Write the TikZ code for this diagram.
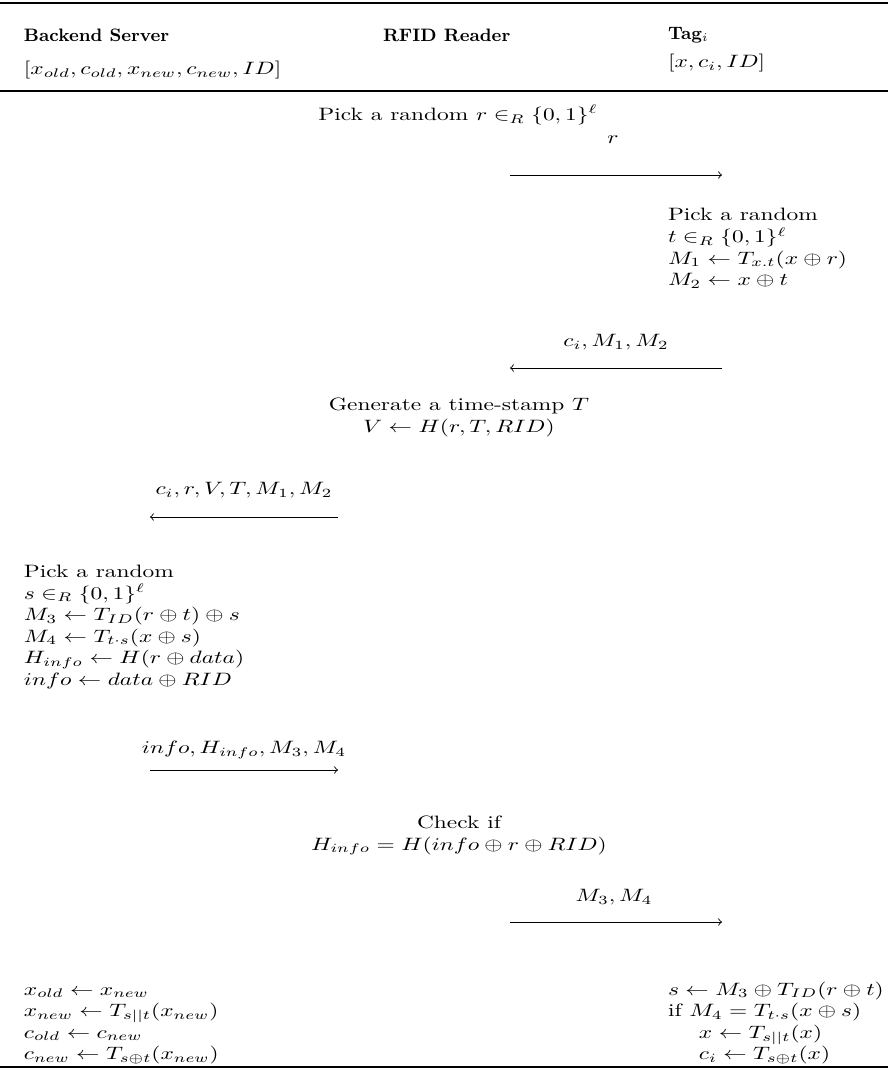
\documentclass[tikz,border=0pt]{standalone}
\usepackage{amsmath}
\usepackage{graphicx}
\newcommand{\mysq}[1]{\scalebox{1.17}[0.895]{#1}}
\newcommand{\mylb}[1]{\mysq{\begin{tabular}{@{}l@{}}#1\end{tabular}}}
\newcommand{\mycb}[1]{\mysq{\begin{tabular}{@{}c@{}}#1\end{tabular}}}
\begin{document}
\begin{tikzpicture}[x=0.5pt,y=-0.5pt,
  every node/.style={font=\fontsize{10}{12}\selectfont},
  txt/.style={inner sep=0pt, outer sep=0pt},
  lblock/.style={txt, anchor=west},
  bblock/.style={txt, anchor=south west},
  cblock/.style={txt, anchor=center},
  hdr/.style={txt, anchor=west, font=\fontsize{9}{11}\selectfont\bfseries},
  msg/.style={->, line width=0.45pt},
  heavyrule/.style={line width=0.9pt},
  lightrule/.style={line width=0.7pt}]
\useasboundingbox (0,0) rectangle (888,1070);
% rules
\draw[heavyrule] (0,3) -- (888,3);
\draw[lightrule] (0,91) -- (888,91);
\draw[heavyrule] (0,1067) -- (888,1067);
% header
\node[hdr] (hserver) at (24,35) {Backend Server};
\node[hdr] (hreader) at (383,35) {RFID Reader};
\node[hdr] (htag) at (668,35) {Tag$_i$};
\node[lblock] (sserver) at (24,70) {\mysq{$[x_{old}, c_{old}, x_{new}, c_{new}, ID]$}};
\node[lblock] (stag) at (668,63) {\mysq{$[x, c_i, ID]$}};
% step 1
\node[cblock] (rpick) at (458,115) {\mysq{Pick a random $r \in_R \{0,1\}^{\ell}$}};
\node[cblock] (l1) at (613,140) {\mysq{$r$}};
\coordinate (a1s) at (510,175);
\coordinate (a1e) at (722,175);
\draw[msg] (a1s) -- (a1e);
% tag computation
\node[lblock] (tagc) at (668,249) {\mylb{Pick a random\\$t \in_R \{0,1\}^{\ell}$\\$M_1 \leftarrow T_{x.t}(x \oplus r)$\\$M_2 \leftarrow x \oplus t$}};
% step 2
\node[cblock] (l2) at (616,342) {\mysq{$c_i, M_1, M_2$}};
\coordinate (a2s) at (722,368);
\coordinate (a2e) at (510,368);
\draw[msg] (a2s) -- (a2e);
% reader
\node[cblock] (gen) at (459,417) {\mycb{Generate a time-stamp $T$\\$V \leftarrow H(r, T, RID)$}};
% step 3
\node[cblock] (l3) at (244,490) {\mysq{$c_i, r, V, T, M_1, M_2$}};
\coordinate (a3s) at (338,517);
\coordinate (a3e) at (150,517);
\draw[msg] (a3s) -- (a3e);
% server
\node[lblock] (srvc) at (24,627) {\mylb{Pick a random\\$s \in_R \{0,1\}^{\ell}$\\$M_3 \leftarrow T_{ID}(r \oplus t) \oplus s$\\$M_4 \leftarrow T_{t\cdot s}(x \oplus s)$\\$H_{info} \leftarrow H(r \oplus data)$\\$info \leftarrow data \oplus RID$}};
% step 4
\node[cblock] (l4) at (244,750) {\mysq{$info, H_{info}, M_3, M_4$}};
\coordinate (a4s) at (150,770);
\coordinate (a4e) at (338,770);
\draw[msg] (a4s) -- (a4e);
% reader check
\node[cblock] (chk) at (459,835) {\mycb{Check if\\$H_{info} = H(info \oplus r \oplus RID)$}};
% step 5
\node[cblock] (l5) at (614,897) {\mysq{$M_3, M_4$}};
\coordinate (a5s) at (510,922);
\coordinate (a5e) at (722,922);
\draw[msg] (a5s) -- (a5e);
% updates
\node[bblock] (supd) at (24,1066) {\mylb{$x_{old} \leftarrow x_{new}$\\$x_{new} \leftarrow T_{s||t}(x_{new})$\\$c_{old} \leftarrow c_{new}$\\$c_{new} \leftarrow T_{s\oplus t}(x_{new})$}};
\node[bblock] (tupd) at (668,1066) {\mylb{$s \leftarrow M_3 \oplus T_{ID}(r \oplus t)$\\if $M_4 = T_{t\cdot s}(x \oplus s)$\\\hspace{13.2pt}$x \leftarrow T_{s||t}(x)$\\\hspace{13.2pt}$c_i \leftarrow T_{s\oplus t}(x)$}};
\end{tikzpicture}
\end{document}
